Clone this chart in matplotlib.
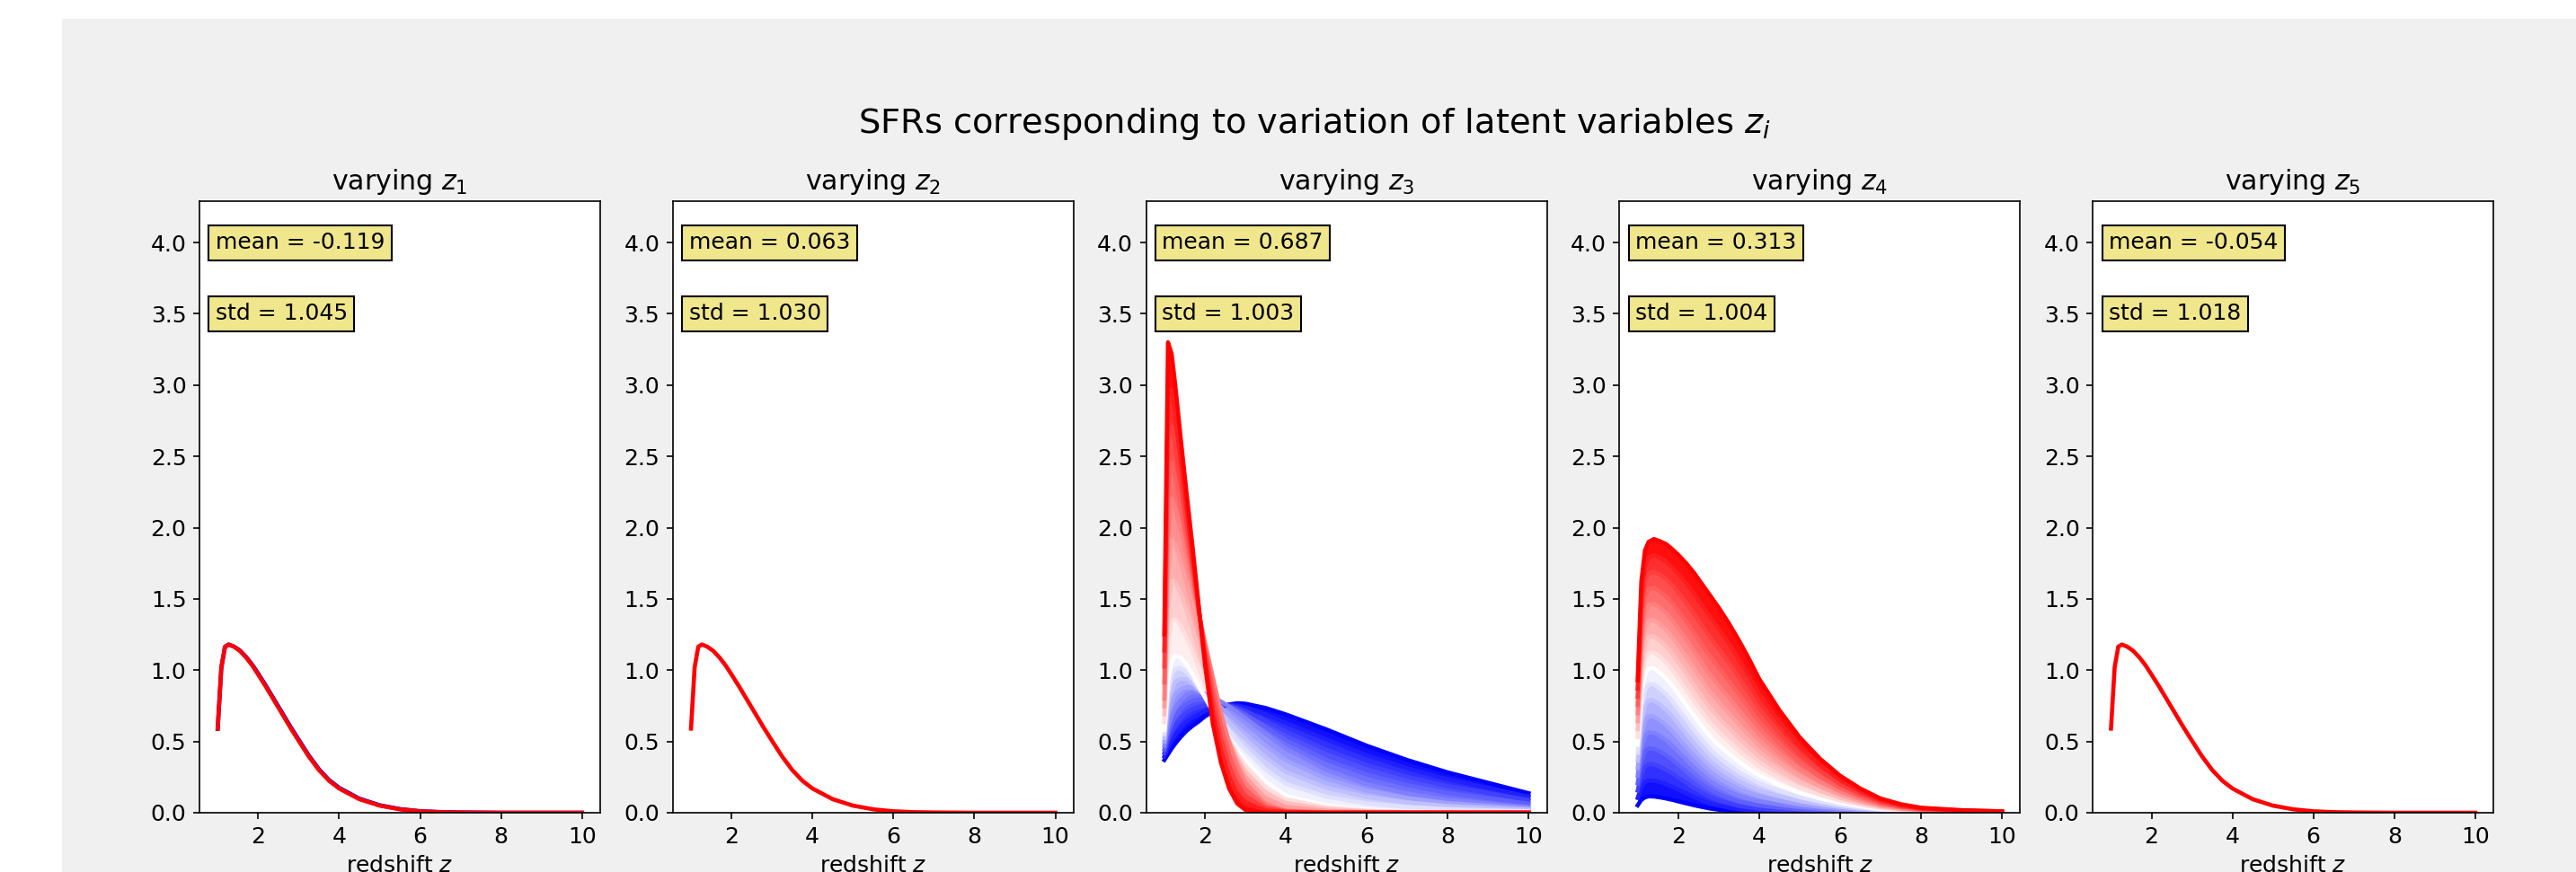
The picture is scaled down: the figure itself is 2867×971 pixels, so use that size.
import matplotlib
matplotlib.use('Agg')
import matplotlib.pyplot as plt
from matplotlib.patches import Rectangle
import numpy as np

plt.rcParams['font.size'] = 12

# redshift grids
redshift = [1.0, 1.09, 1.18, 1.27, 1.4, 1.55, 1.7, 1.85, 2.0, 2.2, 2.4, 2.6, 2.8, 3.0,
            3.25, 3.5, 3.75, 4.0, 4.5, 5.0, 5.5, 6.0, 6.5, 7.0, 7.5, 8.0, 9.0, 10.0]
redshift_z3 = [1.0, 1.09, 1.18, 1.27, 1.4, 1.55, 1.7, 1.85, 2.0, 2.2, 2.4, 2.6,
               2.8, 3.0, 3.5, 4.0, 5.0, 6.0, 7.0, 8.0, 10.0]

# SFR at the mean latent point (panels 1, 2, 5 look the same)
sfr_base = [0.59, 1.02, 1.165, 1.18, 1.165, 1.135, 1.09, 1.035, 0.97, 0.88, 0.785, 0.69,
            0.595, 0.505, 0.395, 0.30, 0.225, 0.17, 0.095, 0.05, 0.024, 0.01, 0.004, 0.002,
            0.001, 0.0, 0.0, 0.0]
sfr_z1_low = [0.588, 1.015, 1.163, 1.18, 1.166, 1.138, 1.094, 1.04, 0.977, 0.887, 0.792,
              0.698, 0.603, 0.513, 0.402, 0.306, 0.23, 0.175, 0.099, 0.053, 0.026, 0.011,
              0.005, 0.002, 0.001, 0.0, 0.0, 0.0]

# varying z3, from lowest (blue) to highest (red) latent value
sfr_z3 = [
    [0.37, 0.41, 0.45, 0.485, 0.53, 0.575, 0.61, 0.64, 0.675, 0.71, 0.74, 0.76, 0.768, 0.765, 0.735, 0.69, 0.585, 0.47, 0.37, 0.283, 0.137],
    [0.395, 0.458, 0.508, 0.549, 0.595, 0.639, 0.669, 0.691, 0.715, 0.735, 0.75, 0.756, 0.752, 0.74, 0.69, 0.63, 0.514, 0.403, 0.311, 0.235, 0.113],
    [0.42, 0.505, 0.565, 0.613, 0.66, 0.703, 0.728, 0.743, 0.755, 0.76, 0.76, 0.753, 0.737, 0.715, 0.645, 0.57, 0.443, 0.335, 0.253, 0.187, 0.089],
    [0.445, 0.553, 0.623, 0.676, 0.725, 0.766, 0.786, 0.794, 0.795, 0.785, 0.77, 0.749, 0.721, 0.69, 0.6, 0.51, 0.371, 0.268, 0.194, 0.138, 0.064],
    [0.47, 0.6, 0.68, 0.74, 0.79, 0.83, 0.845, 0.845, 0.835, 0.81, 0.78, 0.745, 0.705, 0.665, 0.555, 0.45, 0.3, 0.2, 0.135, 0.09, 0.04],
    [0.498, 0.68, 0.775, 0.83, 0.865, 0.883, 0.876, 0.856, 0.829, 0.785, 0.738, 0.689, 0.639, 0.591, 0.471, 0.368, 0.238, 0.155, 0.103, 0.068, 0.03],
    [0.525, 0.76, 0.87, 0.92, 0.94, 0.935, 0.908, 0.868, 0.823, 0.76, 0.695, 0.633, 0.573, 0.518, 0.388, 0.285, 0.175, 0.11, 0.072, 0.047, 0.02],
    [0.553, 0.84, 0.965, 1.01, 1.015, 0.988, 0.939, 0.879, 0.816, 0.735, 0.653, 0.576, 0.506, 0.444, 0.304, 0.203, 0.113, 0.065, 0.04, 0.025, 0.01],
    [0.58, 0.92, 1.06, 1.1, 1.09, 1.04, 0.97, 0.89, 0.81, 0.71, 0.61, 0.52, 0.44, 0.37, 0.22, 0.12, 0.05, 0.02, 0.008, 0.003, 0.0],
    [0.635, 1.178, 1.345, 1.36, 1.315, 1.23, 1.128, 1.018, 0.908, 0.77, 0.633, 0.513, 0.413, 0.33, 0.18, 0.094, 0.038, 0.015, 0.006, 0.002, 0.0],
    [0.69, 1.435, 1.63, 1.62, 1.54, 1.42, 1.285, 1.145, 1.005, 0.83, 0.655, 0.505, 0.385, 0.29, 0.14, 0.068, 0.026, 0.01, 0.004, 0.002, 0.0],
    [0.745, 1.693, 1.915, 1.88, 1.765, 1.61, 1.443, 1.273, 1.103, 0.89, 0.678, 0.498, 0.358, 0.25, 0.1, 0.041, 0.013, 0.005, 0.002, 0.001, 0.0],
    [0.8, 1.95, 2.2, 2.14, 1.99, 1.8, 1.6, 1.4, 1.2, 0.95, 0.7, 0.49, 0.33, 0.21, 0.06, 0.015, 0.001, 0.0, 0.0, 0.0, 0.0],
    [0.913, 2.288, 2.455, 2.355, 2.153, 1.91, 1.665, 1.413, 1.163, 0.868, 0.613, 0.41, 0.264, 0.163, 0.045, 0.011, 0.001, 0.0, 0.0, 0.0, 0.0],
    [1.025, 2.625, 2.71, 2.57, 2.315, 2.02, 1.73, 1.425, 1.125, 0.785, 0.525, 0.33, 0.198, 0.115, 0.031, 0.008, 0.0, 0.0, 0.0, 0.0, 0.0],
    [1.138, 2.963, 2.965, 2.785, 2.478, 2.13, 1.795, 1.438, 1.088, 0.703, 0.438, 0.25, 0.131, 0.068, 0.016, 0.004, 0.0, 0.0, 0.0, 0.0, 0.0],
    [1.25, 3.3, 3.22, 3.0, 2.64, 2.24, 1.86, 1.45, 1.05, 0.62, 0.35, 0.17, 0.065, 0.02, 0.001, 0.0, 0.0, 0.0, 0.0, 0.0, 0.0],
]

# varying z4
sfr_z4 = [
    [0.052, 0.09, 0.108, 0.115, 0.114, 0.108, 0.1, 0.091, 0.08, 0.066, 0.052, 0.04, 0.029, 0.021, 0.014, 0.008, 0.005, 0.003, 0.001, 0.0, 0.0, 0.0, 0.0, 0.0, 0.0, 0.0, 0.0, 0.0],
    [0.104, 0.179, 0.214, 0.228, 0.226, 0.215, 0.2, 0.183, 0.162, 0.136, 0.109, 0.086, 0.065, 0.05, 0.036, 0.024, 0.017, 0.013, 0.007, 0.004, 0.003, 0.002, 0.001, 0.001, 0.0, 0.0, 0.0, 0.0],
    [0.156, 0.27, 0.321, 0.341, 0.338, 0.323, 0.301, 0.277, 0.248, 0.21, 0.172, 0.139, 0.109, 0.087, 0.066, 0.048, 0.037, 0.029, 0.019, 0.012, 0.008, 0.006, 0.004, 0.002, 0.001, 0.001, 0.0, 0.0],
    [0.207, 0.36, 0.427, 0.452, 0.45, 0.43, 0.404, 0.373, 0.336, 0.289, 0.241, 0.199, 0.16, 0.131, 0.104, 0.079, 0.064, 0.051, 0.035, 0.024, 0.017, 0.011, 0.008, 0.005, 0.003, 0.001, 0.001, 0.0],
    [0.26, 0.452, 0.534, 0.565, 0.562, 0.539, 0.508, 0.472, 0.429, 0.372, 0.316, 0.265, 0.219, 0.184, 0.15, 0.119, 0.098, 0.08, 0.057, 0.039, 0.028, 0.019, 0.013, 0.007, 0.004, 0.003, 0.001, 0.001],
    [0.314, 0.545, 0.642, 0.677, 0.675, 0.649, 0.614, 0.574, 0.525, 0.461, 0.397, 0.34, 0.286, 0.244, 0.204, 0.166, 0.139, 0.116, 0.084, 0.058, 0.042, 0.029, 0.019, 0.011, 0.007, 0.004, 0.002, 0.001],
    [0.367, 0.638, 0.749, 0.789, 0.787, 0.76, 0.722, 0.678, 0.625, 0.554, 0.484, 0.42, 0.36, 0.314, 0.266, 0.222, 0.188, 0.158, 0.116, 0.082, 0.059, 0.04, 0.026, 0.016, 0.009, 0.006, 0.003, 0.002],
    [0.422, 0.733, 0.857, 0.901, 0.9, 0.871, 0.832, 0.785, 0.728, 0.653, 0.576, 0.507, 0.442, 0.39, 0.336, 0.285, 0.245, 0.207, 0.153, 0.11, 0.078, 0.053, 0.035, 0.021, 0.012, 0.007, 0.004, 0.002],
    [0.476, 0.828, 0.966, 1.012, 1.013, 0.983, 0.942, 0.893, 0.834, 0.756, 0.676, 0.601, 0.531, 0.475, 0.415, 0.356, 0.308, 0.263, 0.195, 0.14, 0.101, 0.069, 0.045, 0.026, 0.016, 0.009, 0.005, 0.003],
    [0.531, 0.923, 1.074, 1.123, 1.125, 1.095, 1.054, 1.003, 0.944, 0.863, 0.78, 0.702, 0.628, 0.567, 0.501, 0.435, 0.379, 0.324, 0.243, 0.175, 0.126, 0.086, 0.056, 0.033, 0.02, 0.011, 0.006, 0.003],
    [0.587, 1.021, 1.182, 1.236, 1.239, 1.208, 1.168, 1.117, 1.057, 0.976, 0.89, 0.809, 0.733, 0.667, 0.595, 0.522, 0.457, 0.393, 0.296, 0.215, 0.154, 0.104, 0.069, 0.041, 0.024, 0.014, 0.007, 0.004],
    [0.643, 1.119, 1.291, 1.347, 1.352, 1.322, 1.284, 1.234, 1.174, 1.093, 1.008, 0.923, 0.845, 0.777, 0.698, 0.617, 0.543, 0.468, 0.353, 0.258, 0.185, 0.126, 0.082, 0.049, 0.029, 0.016, 0.009, 0.004],
    [0.699, 1.218, 1.4, 1.459, 1.466, 1.438, 1.401, 1.353, 1.294, 1.215, 1.13, 1.046, 0.965, 0.893, 0.808, 0.72, 0.635, 0.549, 0.416, 0.304, 0.218, 0.148, 0.098, 0.057, 0.034, 0.021, 0.01, 0.006],
    [0.756, 1.317, 1.508, 1.568, 1.578, 1.553, 1.519, 1.474, 1.418, 1.341, 1.258, 1.173, 1.092, 1.018, 0.926, 0.83, 0.735, 0.637, 0.484, 0.354, 0.254, 0.174, 0.114, 0.066, 0.04, 0.024, 0.012, 0.006],
    [0.813, 1.416, 1.619, 1.679, 1.692, 1.669, 1.64, 1.596, 1.545, 1.472, 1.392, 1.308, 1.228, 1.15, 1.053, 0.949, 0.843, 0.732, 0.558, 0.41, 0.294, 0.2, 0.131, 0.078, 0.046, 0.027, 0.014, 0.007],
    [0.871, 1.518, 1.729, 1.791, 1.805, 1.787, 1.762, 1.722, 1.677, 1.608, 1.534, 1.451, 1.37, 1.292, 1.188, 1.075, 0.958, 0.833, 0.636, 0.468, 0.335, 0.229, 0.15, 0.089, 0.053, 0.031, 0.016, 0.009],
    [0.93, 1.62, 1.84, 1.9, 1.92, 1.905, 1.885, 1.85, 1.81, 1.75, 1.68, 1.6, 1.52, 1.44, 1.33, 1.21, 1.08, 0.94, 0.72, 0.53, 0.38, 0.26, 0.17, 0.1, 0.06, 0.035, 0.018, 0.01],
]

latent_means = [-0.119, 0.063, 0.687, 0.313, -0.054]
latent_stds = [1.045, 1.030, 1.003, 1.004, 1.018]
panel_curves = [[sfr_z1_low, sfr_base], [sfr_base], sfr_z3, sfr_z4, [sfr_base]]
panel_grid = [redshift, redshift, redshift_z3, redshift, redshift]

W, H, DPI = 2867, 971, 150
fig = plt.figure(figsize=(W / DPI, H / DPI), dpi=DPI, facecolor='white')
# grey canvas of the original figure (the picture is a crop of it)
fig.add_artist(Rectangle((69 / W, 0), 1, 1 - 21 / H, transform=fig.transFigure,
                         facecolor='#f0f0f0', edgecolor='none', zorder=-10))

cmap = plt.cm.bwr
for i in range(5):
    ax = fig.add_axes([(222 + 526.8 * i) / W, 66 / H, 446 / W, 681 / H])
    x = panel_grid[i]
    curves = panel_curves[i]
    n = len(curves)
    t = np.linspace(0, 1, n) if n > 1 else np.array([1.0])
    for k in range(n):
        if n > 2 and k > 0:
            ax.fill_between(x, curves[k - 1], curves[k],
                            color=cmap((t[k - 1] + t[k]) / 2), lw=0)
        ax.plot(x, curves[k], color=cmap(t[k]), lw=2.2)
    ax.set_ylim(0, 4.29)
    ax.set_title('varying $z_%d$' % (i + 1))
    ax.set_xlabel('redshift $z$')
    box = dict(boxstyle='square', facecolor='khaki', edgecolor='black')
    ax.text(0.04, 4.0, 'mean = %.3f' % latent_means[i], transform=ax.get_yaxis_transform(),
            va='center', bbox=box)
    ax.text(0.04, 3.5, 'std = %.3f' % latent_stds[i], transform=ax.get_yaxis_transform(),
            va='center', bbox=box)

fig.text(1463 / W, 1 - 138 / H, 'SFRs corresponding to variation of latent variables $z_i$',
         ha='center', va='center', fontsize=18.4)

plt.savefig('out.png', dpi=DPI, facecolor=fig.get_facecolor())
